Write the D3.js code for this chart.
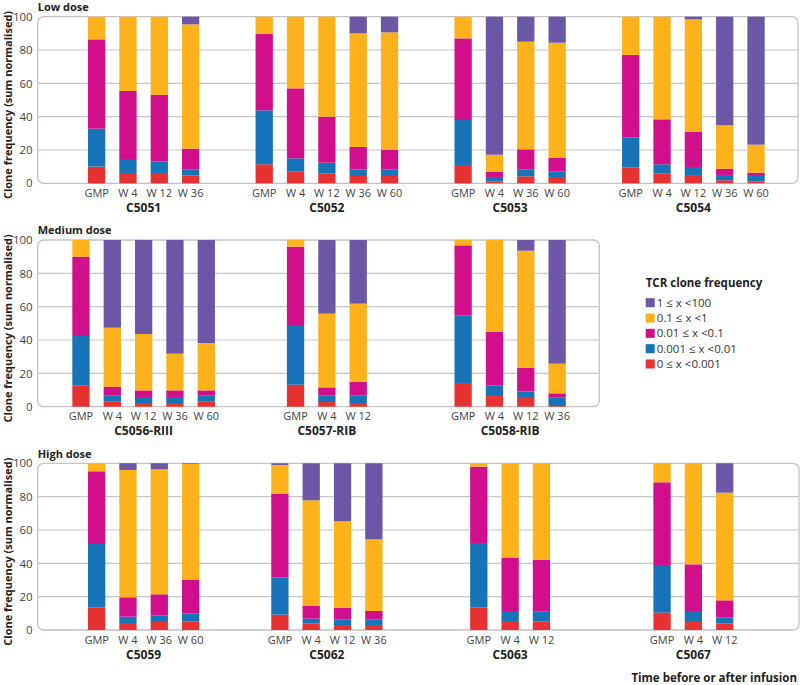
<!DOCTYPE html>
<html>
<head>
<meta charset="utf-8">
<script src="https://cdn.jsdelivr.net/npm/d3@7"></script>
<style>
  body { margin: 0; background: #fff; }
  svg { display: block; font-family: "Open Sans", sans-serif; }
</style>
</head>
<body>
<div id="chart"></div>
<script>
// bins from lowest to highest clone frequency
const bins = ["0 ≤ x <0.001", "0.001 ≤ x <0.01", "0.01 ≤ x <0.1", "0.1 ≤ x <1", "1 ≤ x <100"];
const binColors = ["#e63331", "#1773b8", "#d20f8b", "#fdb11b", "#6b57a5"];

// low dose
const lowPatients = ["C5051", "C5052", "C5053", "C5054"];
const lowTimes = [
    ["GMP", "W 4", "W 12", "W 36"],
    ["GMP", "W 4", "W 12", "W 36", "W 60"],
    ["GMP", "W 4", "W 36", "W 60"],
    ["GMP", "W 4", "W 12", "W 36", "W 60"]
];
const lowValues = [
    [[10, 22.8, 53.6, 13.6, 0], [6.2, 7.8, 41.4, 44.6, 0], [6.2, 7, 39.8, 47, 0], [4.6, 3.8, 12.4, 74.6, 4.6]],
    [[11.4, 32.4, 45.8, 10.4, 0], [7, 8, 42, 43, 0], [6, 6.4, 27.6, 60, 0], [4.4, 3.8, 13.6, 68.2, 10], [4.4, 4, 11.6, 70.6, 9.4]],
    [[11, 27, 49, 13, 0], [1, 2.8, 3, 10.4, 82.8], [4.2, 4.2, 12, 64.6, 15], [3.8, 3.4, 8.2, 69, 15.6]],
    [[9.4, 18, 49.6, 23, 0], [6, 5.4, 27, 61.6, 0], [5, 4.8, 21, 67.6, 1.6], [1.8, 3.2, 3.8, 26, 65.2], [1, 3.4, 2, 16.8, 76.8]]
];

// medium dose
const medPatients = ["C5056-RIII", "C5057-RIB", "C5058-RIB"];
const medTimes = [
    ["GMP", "W 4", "W 12", "W 36", "W 60"],
    ["GMP", "W 4", "W 12"],
    ["GMP", "W 4", "W 12", "W 36"]
];
const medValues = [
    [[12.6, 29.8, 47.6, 10, 0], [3, 3.6, 5.4, 35.4, 52.6], [2.2, 3.6, 4, 33.8, 56.4], [2.2, 3.6, 4, 22, 68.2], [3, 3.6, 3.2, 28.4, 61.8]],
    [[13.2, 35.2, 47.6, 4, 0], [2.8, 3.8, 5, 44.2, 44.2], [2.2, 4.4, 8.2, 47, 38.2]],
    [[14.2, 40.4, 42.2, 3.2, 0], [6.4, 6.2, 32.4, 55, 0], [5.2, 4, 14.2, 70.2, 6.4], [0.4, 5, 2.6, 17.8, 74.2]]
];

// high dose
const highPatients = ["C5059", "C5062", "C5063", "C5067"];
const highTimes = [
    ["GMP", "W 4", "W 36", "W 60"],
    ["GMP", "W 4", "W 12", "W 36"],
    ["GMP", "W 4", "W 12"],
    ["GMP", "W 4", "W 12"]
];
const highValues = [
    [[13.6, 38, 43.6, 4.8, 0], [4.2, 3.8, 11.6, 76.4, 4], [4.8, 3.8, 12.8, 75, 3.6], [5.2, 4.6, 20.2, 69.6, 0.4]],
    [[9.2, 22.2, 50.4, 17.2, 1], [3.8, 3, 7.6, 63.4, 22.2], [3, 3.2, 7.2, 51.8, 34.8], [3, 3.2, 5.2, 43, 45.6]],
    [[13.6, 38.6, 45.8, 2, 0], [5.4, 6, 31.8, 56.8, 0], [5.2, 6, 30.8, 58, 0]],
    [[10.4, 28.6, 49.6, 11.4, 0], [5.4, 6, 28, 60.6, 0], [3.8, 3.8, 10.2, 64.6, 17.6]]
];

const yTicks = [0, 20, 40, 60, 80, 100];

const width = 800, height = 685;
const plotLeft = 37.7;
const slotStep = 31.33, barWidth = 17.3;

const panels = [
    { title: "Low dose", patients: lowPatients, times: lowTimes, values: lowValues, top: 16.7, bottom: 183.3, right: 798 },
    { title: "Medium dose", patients: medPatients, times: medTimes, values: medValues, top: 240, bottom: 406.7, right: 599.3 },
    { title: "High dose", patients: highPatients, times: highTimes, values: highValues, top: 463.3, bottom: 630, right: 799 }
];

const color = d3.scaleOrdinal().domain(d3.range(bins.length)).range(binColors);

// the group columns line up across all three panels
const groupX = d3.scaleBand().domain(d3.range(4)).range([52, 785]);

const stack = d3.stack().keys(d3.range(bins.length));

const svg = d3.select("#chart").append("svg")
    .attr("width", width)
    .attr("height", height);

panels.forEach(p => {
    const y = d3.scaleLinear().domain([0, 100]).range([p.bottom, p.top]);
    const g = svg.append("g");

    // frame + grid
    g.append("rect")
        .attr("x", plotLeft).attr("y", y(100))
        .attr("width", p.right - plotLeft).attr("height", y(0) - y(100))
        .attr("rx", 6)
        .attr("fill", "none")
        .attr("stroke", "#c4c4c4")
        .attr("stroke-width", 1.3);

    g.selectAll(".grid")
        .data(yTicks.filter(t => t > 0 && t < 100))
        .enter().append("line")
        .attr("x1", plotLeft).attr("x2", p.right)
        .attr("y1", d => y(d)).attr("y2", d => y(d))
        .attr("stroke", "#c8c8c8")
        .attr("stroke-width", 1.2);

    const yAxis = g.append("g")
        .attr("transform", `translate(${plotLeft},0)`)
        .call(d3.axisLeft(y).tickValues(yTicks).tickSize(0).tickPadding(5));
    yAxis.select(".domain").remove();
    yAxis.selectAll("text")
        .style("font-family", "Open Sans, sans-serif")
        .style("font-size", "11.5px")
        .attr("fill", "#444");

    g.append("text")
        .attr("x", plotLeft).attr("y", p.top - 5.7)
        .style("font-size", "11px").style("font-weight", "bold")
        .attr("fill", "#222")
        .text(p.title);

    g.append("text")
        .attr("transform", `translate(12,${(p.top + p.bottom) / 2 + 5}) rotate(-90)`)
        .attr("text-anchor", "middle")
        .style("font-size", "11px").style("font-weight", "bold")
        .attr("fill", "#222")
        .text("Clone frequency (sum normalised)");

    p.patients.forEach((pat, gi) => {
        const times = p.times[gi];
        const cx = groupX(gi) + groupX.bandwidth() / 2;
        const half = times.length * slotStep / 2;
        const pad = (slotStep - barWidth) / slotStep;
        const x = d3.scaleBand().domain(times).range([cx - half, cx + half])
            .paddingInner(pad).paddingOuter(pad / 2);

        const rows = p.values[gi].map((v, i) => Object.assign({ time: times[i] }, v));
        const series = stack(rows);

        const grp = g.append("g");
        grp.selectAll("g.s")
            .data(series)
            .enter().append("g")
            .attr("fill", d => color(d.key))
            .selectAll("rect")
            .data(d => d)
            .enter().append("rect")
            .attr("x", d => x(d.data.time))
            .attr("width", x.bandwidth())
            .attr("y", d => y(d[1]))
            .attr("height", d => Math.max(0, y(d[0]) - y(d[1])));

        const xAxis = grp.append("g")
            .attr("transform", `translate(0,${p.bottom})`)
            .call(d3.axisBottom(x).tickSize(0).tickPadding(6));
        xAxis.select(".domain").remove();
        xAxis.selectAll("text")
            .style("font-family", "Open Sans, sans-serif")
            .style("font-size", "11px")
            .attr("fill", "#444");

        grp.append("text")
            .attr("x", cx).attr("y", p.bottom + 28.5)
            .attr("text-anchor", "middle")
            .style("font-size", "12px").style("font-weight", "bold")
            .attr("fill", "#222")
            .text(pat);
    });
});

// x title
svg.append("text")
    .attr("x", 797).attr("y", 681.5)
    .attr("text-anchor", "end")
    .style("font-size", "11.5px").style("font-weight", "bold")
    .attr("fill", "#222")
    .text("Time before or after infusion");

// legend
const legend = svg.append("g").attr("transform", "translate(645.7,0)");
legend.append("text")
    .attr("x", 0).attr("y", 287)
    .style("font-size", "11.5px").style("font-weight", "bold")
    .attr("fill", "#222")
    .text("TCR clone frequency");

const legendOrder = d3.range(bins.length).reverse();
const ly = d3.scalePoint().domain(legendOrder).range([302.7, 364]);
const item = legend.selectAll(".item")
    .data(legendOrder)
    .enter().append("g")
    .attr("transform", d => `translate(0,${ly(d)})`);
item.append("rect")
    .attr("x", 0).attr("y", -4.5).attr("width", 9).attr("height", 9)
    .attr("fill", d => color(d));
item.append("text")
    .attr("x", 11).attr("y", 4)
    .style("font-size", "11.5px")
    .attr("fill", "#333")
    .text(d => bins[d]);
</script>
</body>
</html>
